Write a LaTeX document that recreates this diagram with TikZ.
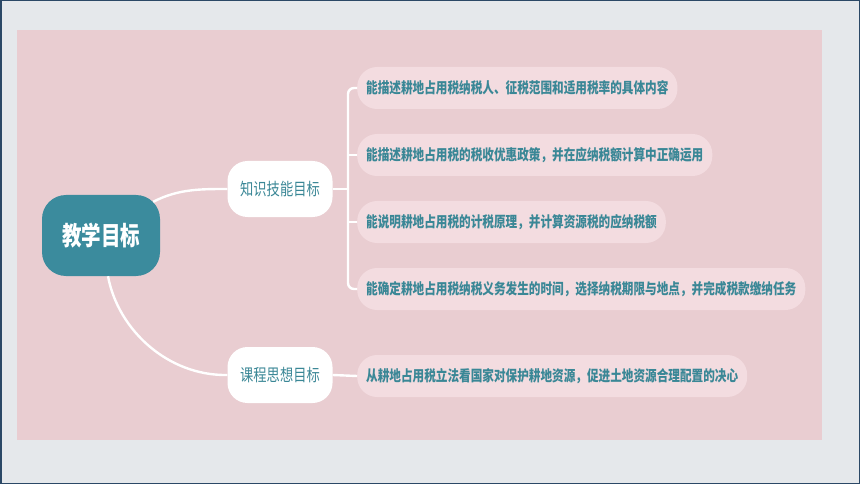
\documentclass[tikz,border=0pt]{standalone}
\usepackage{fontspec}
\newfontfamily\cjkleaf{Noto Sans CJK SC}[FakeStretch=0.775]
\newfontfamily\cjkmid{Noto Sans CJK SC}[FakeStretch=0.78]
\newfontfamily\cjkroot{Noto Sans CJK SC}[FakeStretch=0.75]
\definecolor{outerbg}{HTML}{E5E8EB}
\definecolor{framec}{HTML}{2B4866}
\definecolor{panel}{HTML}{E9CDD1}
\definecolor{leaffill}{HTML}{F3DCE0}
\definecolor{teal}{HTML}{3B8B9D}
\definecolor{tealtext}{HTML}{3A8796}
\tikzset{
  conn/.style={draw=white, line width=2.4pt},
  rootbox/.style={fill=teal, rounded corners=24pt, minimum width=118pt, minimum height=81pt,
    text=white, font=\cjkroot\bfseries\fontsize{26}{30}\selectfont, inner sep=0pt},
  midbox/.style={fill=white, rounded corners=20pt, minimum width=105pt, minimum height=56pt,
    text=tealtext, font=\cjkmid\fontsize{17}{20}\selectfont, inner sep=0pt},
  leafbox/.style={fill=leaffill, rounded corners=20pt, minimum height=42pt, inner xsep=9pt,
    inner ysep=0pt, anchor=west, text=tealtext, font=\cjkleaf\bfseries\fontsize{15}{18}\selectfont},
}
\begin{document}
\begin{tikzpicture}[x=1pt,y=-1pt]
\useasboundingbox (0,0) rectangle (860,484);
\fill[outerbg] (0,0) rectangle (860,484);
\draw[framec, line width=1.5pt] (0.75,0.75) rectangle (859.25,483.25);
\fill[panel] (17,30) rectangle (822,440);

\node[rootbox] (root) at (101,235.5) {教学目标};
\node[midbox] (k) at (280,189) {知识技能目标};
\node[midbox] (s) at (280,375) {课程思想目标};

\node[leafbox] (l1) at (357,88) {能描述耕地占用税纳税人、征税范围和适用税率的具体内容};
\node[leafbox] (l2) at (357,155) {能描述耕地占用税的税收优惠政策，并在应纳税额计算中正确运用};
\node[leafbox] (l3) at (357,222) {能说明耕地占用税的计税原理，并计算资源税的应纳税额};
\node[leafbox] (l4) at (357,289) {能确定耕地占用税纳税义务发生的时间，选择纳税期限与地点，并完成税款缴纳任务};
\node[leafbox] (l5) at (357,376) {从耕地占用税立法看国家对保护耕地资源，促进土地资源合理配置的决心};

\coordinate (br) at (348,0);

\draw[conn] ([xshift=-7pt,yshift=-7pt]root.north east) .. controls (178,189) and (200,189) .. (k.west);
\draw[conn] ([xshift=7pt]root.south) .. controls (118,330) and (168,376) .. (s.west);
\draw[conn] (k.east) -- (k.east -| br);
\draw[conn, rounded corners=6pt] (l1.west) -- (l1.west -| br) -- (l4.west -| br) -- (l4.west);
\draw[conn] (l2.west -| br) -- (l2.west);
\draw[conn] (l3.west -| br) -- (l3.west);
\draw[conn] (s.east) -- (l5.west);
\end{tikzpicture}
\end{document}
